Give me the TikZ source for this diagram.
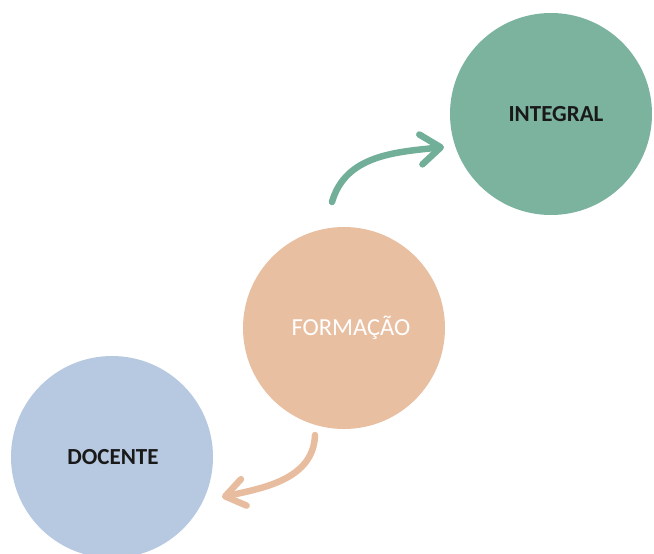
\documentclass[tikz,border=0pt]{standalone}
\usepackage{fontspec}
\setmainfont{Carlito}
\usetikzlibrary{arrows.meta}
\definecolor{tealfill}{HTML}{7BB39F}
\definecolor{peachfill}{HTML}{E9BFA2}
\definecolor{bluefill}{HTML}{B7C9E0}
\definecolor{tealarrow}{HTML}{72AF98}
\definecolor{peacharrow}{HTML}{E8BC9E}
\tikzset{
  bubble/.style={circle, minimum size=202pt, inner sep=0pt},
  darklabel/.style={font=\fontsize{23}{27}\selectfont\bfseries, text=black!90},
  lightlabel/.style={font=\fontsize{24.5}{28}\selectfont, text=white},
  swoosh/.style={line width=6.5pt, line cap=round, line join=round}
}
\begin{document}
\begin{tikzpicture}[x=1pt, y=-1pt]
  \useasboundingbox (0,0) rectangle (654,554);
  \fill[white] (0,0) rectangle (654,554);
  \clip (0,0) rectangle (654,554);

  \node[bubble, fill=tealfill]  (integral) at (551,114) {};
  \node[bubble, fill=peachfill] (formacao) at (344,328) {};
  \node[bubble, fill=bluefill]  (docente)  at (112,457) {};

  \node[darklabel]  at ([xshift=5pt]integral.center) {INTEGRAL};
  \node[lightlabel] at ([xshift=7pt]formacao.center) {FORMAÇÃO};
  \node[darklabel]  at ([xshift=1pt]docente.center) {DOCENTE};

  % curved arrows between the bubbles
  \coordinate (upstart) at ([shift={(-12,-126)}]formacao.center);
  \coordinate (upend)   at ([shift={(-107,33)}]integral.center);
  \coordinate (downstart) at ([shift={(-29,107)}]formacao.center);
  \coordinate (downend)   at ([shift={(110,40)}]docente.center);

  \draw[swoosh, tealarrow, -{Straight Barb[length=20pt, width=30pt, round]}]
    (upstart) to[out=74, in=186] (upend);
  \draw[swoosh, peacharrow, -{Straight Barb[length=19pt, width=27pt, round]}]
    (downstart) to[out=-92, in=12] (downend);
\end{tikzpicture}
\end{document}
